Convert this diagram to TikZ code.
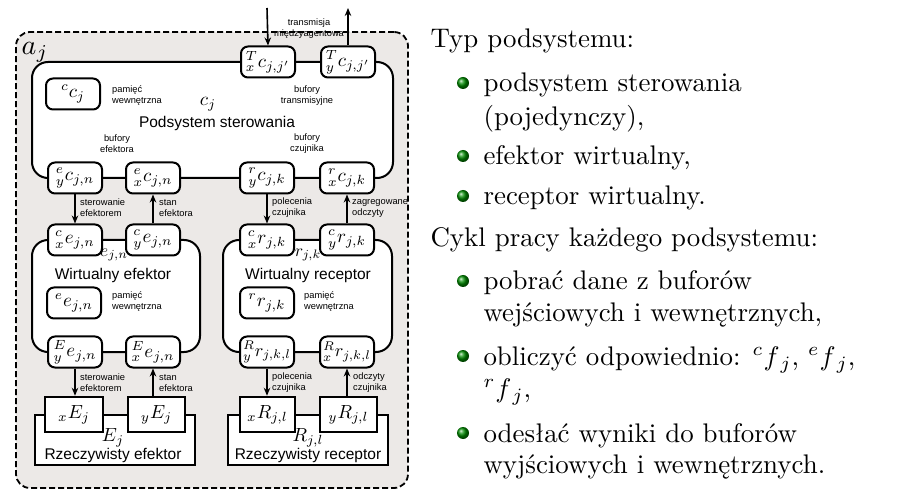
\documentclass[tikz,border=0pt]{standalone}
\usepackage{fontspec}
\usepackage{graphicx}
\newfontfamily\helv{Liberation Sans}
\usetikzlibrary{arrows.meta,calc,shadings}
\newcommand\mth[2][1.9]{\scalebox{#1}{$#2$}}
\definecolor{outerfill}{HTML}{ECE9E7}
\tikzset{
  buf/.style={draw, line width=2pt, rounded corners=7pt, fill=white, minimum width=54pt, minimum height=31pt, inner sep=0pt},
  rbuf/.style={draw, line width=2.5pt, fill=white, minimum height=35pt, inner sep=0pt},
  bigbox/.style={draw, line width=2pt, rounded corners=16pt, fill=white, inner sep=0pt},
  realbox/.style={draw, line width=2.2pt, fill=white, inner sep=0pt},
  lbl/.style={font=\helv\fontsize{9.3}{11}\selectfont, align=center, inner sep=0pt},
  lbll/.style={lbl, align=left, anchor=west},
  ttl/.style={font=\helv\fontsize{15.5}{18}\selectfont, inner sep=0pt, anchor=base},
  arr/.style={-{Stealth[length=8pt,width=6.5pt]}, line width=1.6pt},
  txt/.style={anchor=base west, inner sep=0pt, scale=2.69},
  bullet/.style={circle, inner sep=0pt, minimum size=12pt, shading=ball, ball color=green!55!black}
}
\begin{document}
\begin{tikzpicture}[x=1pt,y=-1pt]
\useasboundingbox (0,0) rectangle (899,502);
% outer agent box
\node[draw, dash pattern=on 6pt off 3pt, line width=1.8pt, rounded corners=14pt, fill=outerfill,
      minimum width=392pt, minimum height=456pt, inner sep=0pt] (outer) at (212,260) {};
\node[inner sep=0pt] (aj) at (35,52) {\mth[2.8]{a_j}};

% control subsystem
\node[bigbox, minimum width=361pt, minimum height=116pt] (ctrl) at (212.5,120) {};
\node[buf] (Tx) at (268,62) {\mth{{}^{T}_{x}c_{j,j'}}};
\node[buf] (Ty) at (348,62) {\mth{{}^{T}_{y}c_{j,j'}}};
\node[buf] (cc) at (73,94) {\mth{{}^{c}c_{j}}};
\node[lbll] (cmem) at (112,96) {pamięć\\wewnętrzna};
\node[inner sep=0pt] (cj) at (208,104) {\mth[1.9]{c_j}};
\node[lbl] (btr) at (307,96) {bufory\\transmisyjne};
\node[ttl] (ctitle) at (217,128) {Podsystem sterowania};
\node[lbl] (bef) at (117,144) {bufory\\efektora};
\node[lbl] (bcz) at (307,144) {bufory\\czujnika};
\node[buf] (eyc) at (75,178) {\mth{{}^{e}_{y}c_{j,n}}};
\node[buf] (exc) at (153,178) {\mth{{}^{e}_{x}c_{j,n}}};
\node[buf] (ryc) at (267,178) {\mth{{}^{r}_{y}c_{j,k}}};
\node[buf] (rxc) at (347,178) {\mth{{}^{r}_{x}c_{j,k}}};

% inter-agent transmission
\coordinate (tin) at (267,8);
\coordinate (tout) at (348,8);
\draw[arr] (tin) -- (Tx.north);
\draw[arr] (Ty.north) -- (tout);
\node[lbl] (trans) at (309,29) {transmisja\\międzyagentowa};

% virtual effector / receptor
\node[bigbox, minimum width=168pt, minimum height=112pt] (veff) at (116,296) {};
\node[bigbox, minimum width=169pt, minimum height=112pt] (vrec) at (307.5,296) {};
\node[buf] (exe) at (75,240) {\mth{{}^{c}_{x}e_{j,n}}};
\node[buf] (eye) at (153,240) {\mth{{}^{c}_{y}e_{j,n}}};
\node[buf] (rxr) at (267,240) {\mth{{}^{c}_{x}r_{j,k}}};
\node[buf] (ryr) at (347,240) {\mth{{}^{c}_{y}r_{j,k}}};
\node[inner sep=0pt] (ejn) at (114,255) {\mth[1.75]{e_{j,n}}};
\node[inner sep=0pt] (rjk) at (308,255) {\mth[1.75]{r_{j,k}}};
\node[ttl] (vetitle) at (113,280) {Wirtualny efektor};
\node[ttl] (vrtitle) at (308,280) {Wirtualny receptor};
\node[buf] (ee) at (74,303) {\mth{{}^{e}e_{j,n}}};
\node[lbll] (emem) at (112,302) {pamięć\\wewnętrzna};
\node[buf] (rr) at (267,303) {\mth{{}^{r}r_{j,k}}};
\node[lbll] (rmem) at (304,302) {pamięć\\wewnętrzna};
\node[buf] (Eye) at (75,352) {\mth{{}^{E}_{y}e_{j,n}}};
\node[buf] (Exe) at (153,352) {\mth{{}^{E}_{x}e_{j,n}}};
\node[buf] (Ryr) at (267,352) {\mth[1.8]{{}^{R}_{y}r_{j,k,l}}};
\node[buf] (Rxr) at (347,352) {\mth[1.8]{{}^{R}_{x}r_{j,k,l}}};

% arrows control <-> virtual
\draw[arr] (eyc.south) -- (exe.north);
\draw[arr] (eye.north) -- (exc.south);
\draw[arr] (ryc.south) -- (rxr.north);
\draw[arr] (ryr.north) -- (rxc.south);
\node[lbll] (l1) at (80,208) {sterowanie\\efektorem};
\node[lbll] (l2) at (159,208) {stan\\efektora};
\node[lbll] (l3) at (272,208) {polecenia\\czujnika};
\node[lbll] (l4) at (352,208) {zagregowane\\odczyty};

% real effector / receptor
\node[realbox, minimum width=160pt, minimum height=50pt] (reff) at (115,440) {};
\node[realbox, minimum width=160pt, minimum height=50pt] (rrec) at (308,440) {};
\node[rbuf, minimum width=58pt] (xE) at (74,414.5) {\mth[1.9]{{}_{x}E_{j}}};
\node[rbuf, minimum width=57pt] (yE) at (156.5,414.5) {\mth[1.9]{{}_{y}E_{j}}};
\node[rbuf, minimum width=55pt] (xR) at (267.5,414.5) {\mth[1.9]{{}_{x}R_{j,l}}};
\node[rbuf, minimum width=57pt] (yR) at (348.5,414.5) {\mth[1.9]{{}_{y}R_{j,l}}};
\node[inner sep=0pt] (Ej) at (113,438) {\mth[1.9]{E_j}};
\node[inner sep=0pt] (Rjl) at (308,438) {\mth[1.9]{R_{j,l}}};
\node[ttl] (retitle) at (113,459) {Rzeczywisty efektor};
\node[ttl] (rrtitle) at (308,459) {Rzeczywisty receptor};

% arrows virtual <-> real
\draw[arr] (Eye.south) -- (Eye.south |- xE.north);
\draw[arr] (Exe.south |- yE.north) -- (Exe.south);
\draw[arr] (Ryr.south) -- (Ryr.south |- xR.north);
\draw[arr] (Rxr.south |- yR.north) -- (Rxr.south);
\node[lbll] (l5) at (80,383) {sterowanie\\efektorem};
\node[lbll] (l6) at (159,383) {stan\\efektora};
\node[lbll] (l7) at (272,383) {polecenia\\czujnika};
\node[lbll] (l8) at (353,383) {odczyty\\czujnika};

% right-hand text
\node[txt] (h1) at (430,48) {Typ podsystemu:};
\node[bullet] (b1) at (463,83) {};
\node[txt] (i1a) at (483,92) {podsystem sterowania};
\node[txt] (i1b) at (483,126) {(pojedynczy),};
\node[bullet] (b2) at (463,156) {};
\node[txt] (i2) at (483,165) {efektor wirtualny,};
\node[bullet] (b3) at (463,196) {};
\node[txt] (i3) at (483,205) {receptor wirtualny.};
\node[txt] (h2) at (430,247) {Cykl pracy każdego podsystemu:};
\node[bullet] (b4) at (463,281) {};
\node[txt] (i4a) at (483,290) {pobrać dane z buforów};
\node[txt] (i4b) at (483,322) {wejściowych i wewnętrznych,};
\node[bullet] (b5) at (463,356) {};
\node[txt] (i5a) at (483,365) {obliczyć odpowiednio: $^{c}f_{\,j}$, $^{e}f_{\,j}$,};
\node[txt] (i5b) at (483,397) {$^{r}f_{\,j}$,};
\node[bullet] (b6) at (463,433) {};
\node[txt] (i6a) at (483,442) {odesłać wyniki do buforów};
\node[txt] (i6b) at (483,473) {wyjściowych i wewnętrznych.};
\end{tikzpicture}
\end{document}
